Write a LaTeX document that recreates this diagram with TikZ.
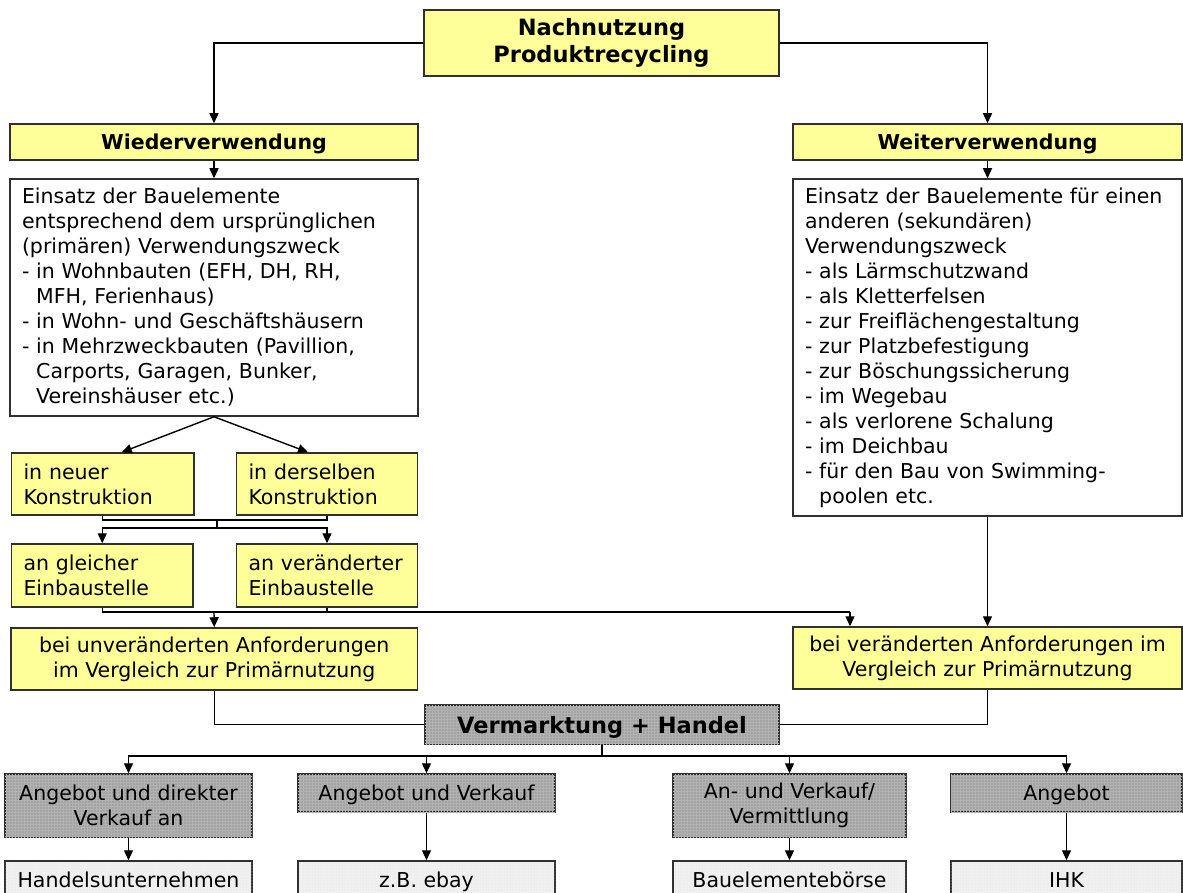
\documentclass[tikz,border=0pt]{standalone}
\usepackage{fontspec}
\setmainfont{DejaVu Sans}
\usetikzlibrary{arrows.meta,patterns}
\definecolor{boxyellow}{HTML}{FFFF99}
\definecolor{boxgray}{HTML}{A2A2A2}
\definecolor{boxlight}{HTML}{F0F0F0}
\definecolor{edgecol}{HTML}{303030}
\begin{document}
\begin{tikzpicture}[x=1pt,y=-1pt,
  every node/.style={font=\fontsize{20.5}{25}\selectfont, inner sep=0pt},
  bftext/.style={font=\fontsize{20.5}{25}\selectfont\bfseries},
  bigbf/.style={font=\fontsize{22.5}{27}\selectfont\bfseries},
  oneline/.style={text height=16pt, text depth=1pt},
  base/.style={draw=edgecol, line width=1.5pt, rectangle, align=center},
  ybox/.style={base, fill=boxyellow},
  wbox/.style={base, fill=white},
  gbox/.style={base, fill=boxgray, postaction={pattern=grid, pattern color=black!30}},
  lbox/.style={base, fill=boxlight, postaction={pattern=dots, pattern color=black!12}},
  lefttext/.style={align=left, inner xsep=12pt},
  conn/.style={line width=1.4pt, draw=black},
  arr/.style={conn, -{Triangle[length=10pt,width=9pt]}},
]
\useasboundingbox (0,0) rectangle (1183,893);
\fill[white] (0,0) rectangle (1183,893);

% top
\node[ybox, bigbf, minimum width=355pt, minimum height=66pt] (top) at (601.5,43) {Nachnutzung\\Produktrecycling};
\node[ybox, bftext, oneline, minimum width=408pt, minimum height=36pt] (wied) at (214,142) {Wiederverwendung};
\node[ybox, bftext, oneline, minimum width=389pt, minimum height=36pt] (weit) at (987.5,142) {Weiterverwendung};

% white text boxes
\node[wbox, lefttext, text width=384pt, minimum height=237pt] (lw) at (214,297.5) {Einsatz der Bauelemente\\
entsprechend dem ursprünglichen\\
(primären) Verwendungszweck\\
- in Wohnbauten (EFH, DH, RH,\\
\hphantom{- }MFH, Ferienhaus)\\
- in Wohn- und Geschäftshäusern\\
- in Mehrzweckbauten (Pavillion,\\
\hphantom{- }Carports, Garagen, Bunker,\\
\hphantom{- }Vereinshäuser etc.)};
\node[wbox, lefttext, text width=365pt, minimum height=337pt] (rw) at (987.5,347.5) {Einsatz~der~Bauelemente~für~einen\\
anderen (sekundären)\\
Verwendungszweck\\
- als Lärmschutzwand\\
- als Kletterfelsen\\
- zur Freiflächengestaltung\\
- zur Platzbefestigung\\
- zur Böschungssicherung\\
- im Wegebau\\
- als verlorene Schalung\\
- im Deichbau\\
- für~den~Bau~von~Swimming-\\
\hphantom{- }poolen etc.};

% small yellow boxes
\node[ybox, lefttext, text width=158.5pt, minimum height=62pt] (neu) at (102.75,484) {in~neuer\\Konstruktion};
\node[ybox, lefttext, text width=157pt, minimum height=62pt] (ders) at (327,484) {in~derselben\\Konstruktion};
\node[ybox, lefttext, text width=157.5pt, minimum height=63pt] (gleich) at (102.25,575.5) {an~gleicher\\Einbaustelle};
\node[ybox, lefttext, text width=157pt, minimum height=63pt] (verae) at (327,575.5) {an~veränderter\\Einbaustelle};

\node[ybox, minimum width=406.5pt, minimum height=62pt] (unv) at (214.25,659) {bei unveränderten Anforderungen\\im Vergleich zur Primärnutzung};
\node[ybox, minimum width=389pt, minimum height=62pt] (ver) at (987.5,658) {bei veränderten Anforderungen im\\Vergleich zur Primärnutzung};

% marketing
\node[gbox, bigbf, text height=17pt, text depth=0pt, minimum width=354pt, minimum height=39pt] (verm) at (602,724.5) {Vermarktung + Handel};

\node[gbox, minimum width=247pt, minimum height=63pt] (a1) at (128.5,805.5) {Angebot und direkter\\Verkauf an};
\node[gbox, oneline, minimum width=257pt, minimum height=38pt] (a2) at (426.5,793) {Angebot und Verkauf};
\node[gbox, minimum width=233pt, minimum height=63pt] (a3) at (789.5,805.5) {An- und Verkauf/\\Vermittlung};
\node[gbox, oneline, minimum width=231pt, minimum height=38pt] (a4) at (1066.5,793) {Angebot};

\node[lbox, oneline, minimum width=247pt, minimum height=38pt] (b1) at (128.5,880) {Handelsunternehmen};
\node[lbox, oneline, minimum width=257pt, minimum height=38pt] (b2) at (426.5,880) {z.B. ebay};
\node[lbox, oneline, minimum width=233pt, minimum height=38pt] (b3) at (789.5,880) {Bauelementebörse};
\node[lbox, oneline, minimum width=231pt, minimum height=38pt] (b4) at (1066.5,880) {IHK};

% junction coordinates
\coordinate (j1) at (217,520);
\coordinate (j2) at (217,528);
\coordinate (j3) at (214,612);
\coordinate (j4) at (850,612);
\coordinate (j5) at (602,756);

% connectors
\draw[arr] (top.west) -| (wied.north);
\draw[arr] (top.east) -| (weit.north);
\draw[arr] (wied.south) -- (lw.north);
\draw[arr] (weit.south) -- (rw.north);
\draw[arr] (lw.south) -- ([xshift=19pt]neu.north);
\draw[arr] (lw.south) -- ([xshift=-19pt]ders.north);
\draw[conn] (neu.south) |- (j1) -| (ders.south);
\draw[conn] (j1) -- (j2);
\draw[arr] (j2) -| (gleich.north);
\draw[arr] (j2) -| (verae.north);
\draw[conn] (gleich.south) |- (j4);
\draw[conn] (verae.south) -- (verae.south |- j4);
\draw[arr] (j3) -- (unv.north);
\draw[arr] (j4) -- (ver.north -| j4);
\draw[arr] (rw.south) -- (ver.north);
\draw[conn] (unv.south) |- (verm.west);
\draw[conn] (ver.south) |- (verm.east);
\draw[conn] (verm.south) -- (j5);
\draw[arr] (j5) -| (a1.north);
\draw[arr] (j5) -| (a2.north);
\draw[arr] (j5) -| (a3.north);
\draw[arr] (j5) -| (a4.north);
\draw[arr] (a1.south) -- (b1.north);
\draw[arr] (a2.south) -- (b2.north);
\draw[arr] (a3.south) -- (b3.north);
\draw[arr] (a4.south) -- (b4.north);
\end{tikzpicture}
\end{document}
